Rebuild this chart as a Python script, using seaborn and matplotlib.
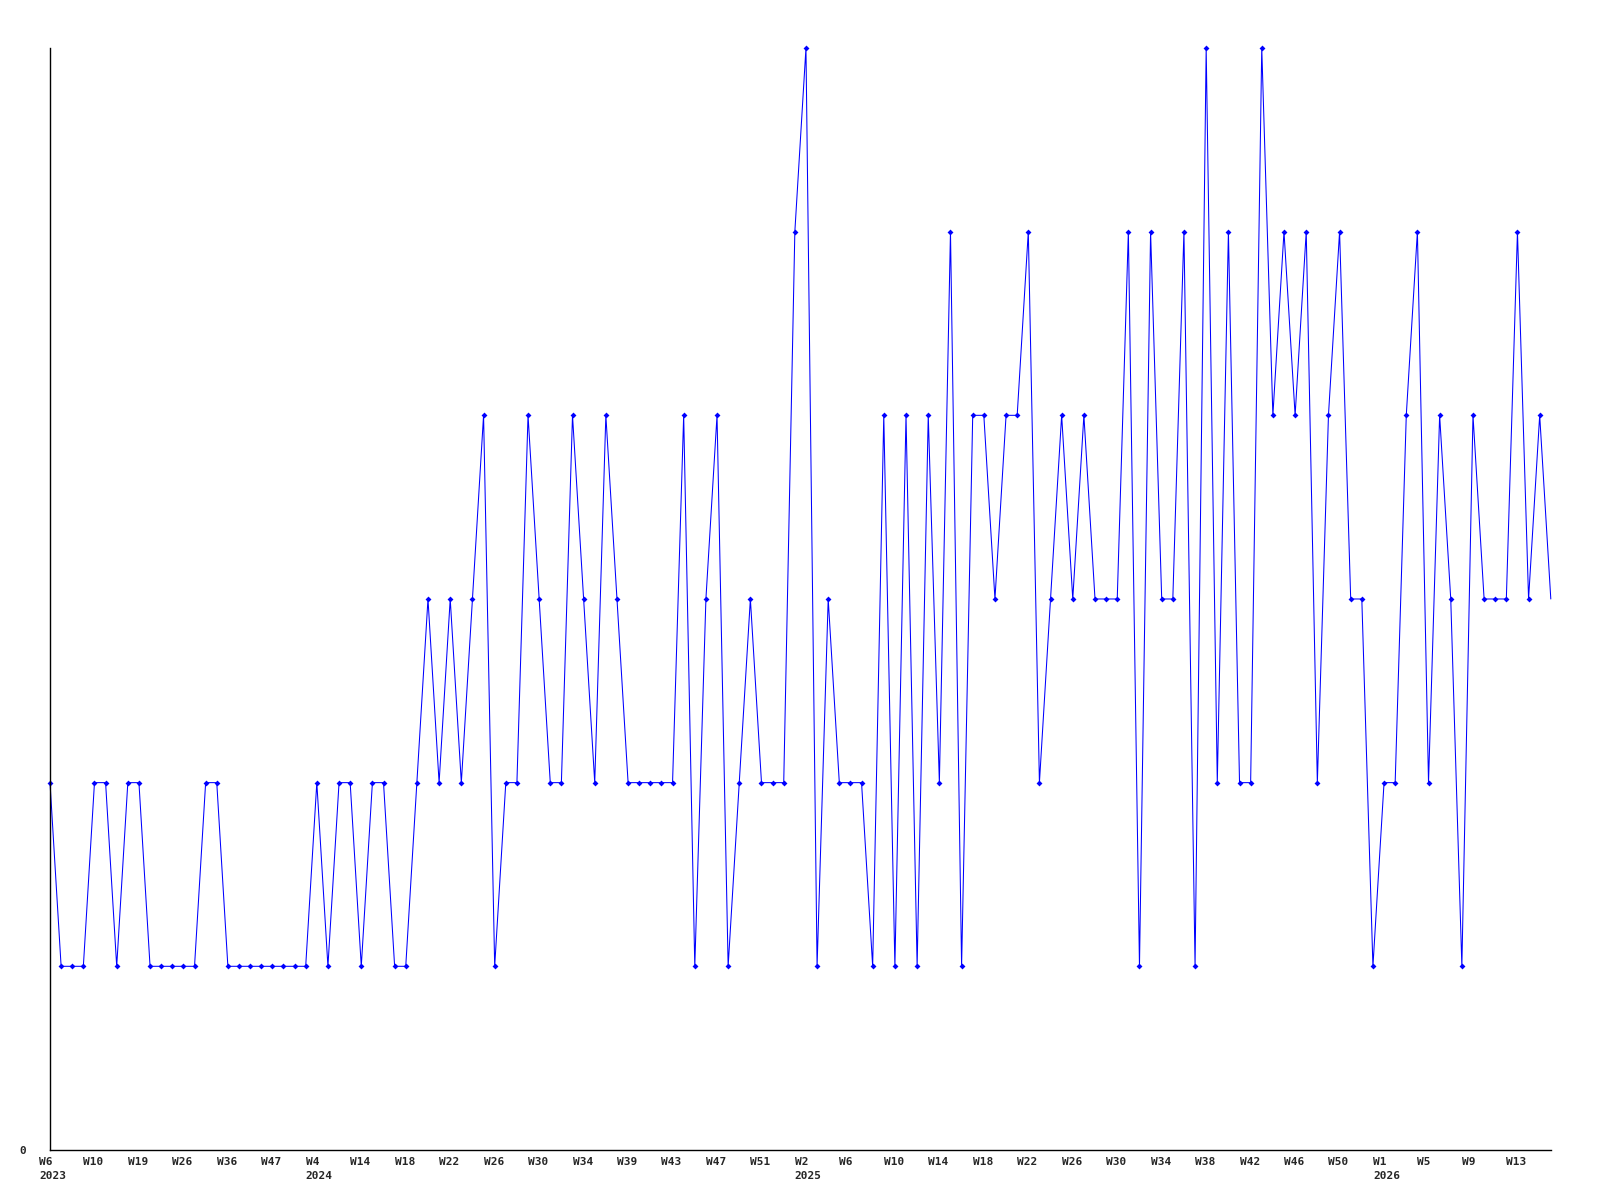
import matplotlib
matplotlib.use('Agg')
import matplotlib.pyplot as plt
import seaborn as sns
import pandas as pd

# weekly values, one per data point (equally spaced)
values = [
    2, 1, 1, 1, 2, 2, 1, 2, 2, 1, 1, 1, 1, 1, 2, 2, 1, 1, 1, 1,
    1, 1, 1, 1, 2, 1, 2, 2, 1, 2, 2, 1, 1, 2, 3, 2, 3, 2, 3, 4,
    1, 2, 2, 4, 3, 2, 2, 4, 3, 2, 4, 3, 2, 2, 2, 2, 2, 4, 1, 3,
    4, 1, 2, 3, 2, 2, 2, 5, 6, 1, 3, 2, 2, 2, 1, 4, 1, 4, 1, 4,
    2, 5, 1, 4, 4, 3, 4, 4, 5, 2, 3, 4, 3, 4, 3, 3, 3, 5, 1, 5,
    3, 3, 5, 1, 6, 2, 5, 2, 2, 6, 4, 5, 4, 5, 2, 4, 5, 3, 3, 1,
    2, 2, 4, 5, 2, 4, 3, 1, 4, 3, 3, 3, 5, 3, 4, 3,
]

# labels shown every 4th point
week_labels = [
    'W6', 'W10', 'W19', 'W26', 'W36', 'W47', 'W4', 'W14', 'W18', 'W22',
    'W26', 'W30', 'W34', 'W39', 'W43', 'W47', 'W51', 'W2', 'W6', 'W10',
    'W14', 'W18', 'W22', 'W26', 'W30', 'W34', 'W38', 'W42', 'W46', 'W50',
    'W1', 'W5', 'W9', 'W13',
]
year_labels = {0: '2023', 6: '2024', 17: '2025', 30: '2026'}

df = pd.DataFrame({'idx': range(len(values)), 'value': values})

sns.set_style('white')
plt.rcParams['font.family'] = ['DejaVu Sans Mono', 'DejaVu Sans']

fig = plt.figure(figsize=(16, 12), dpi=100)
ax = fig.add_axes([0.03125, 0.0417, 0.938, 0.9183])

sns.lineplot(data=df, x='idx', y='value', ax=ax, color='#0000ff',
             linewidth=0.75, marker='D', markersize=3, markeredgewidth=0,
             markevery=list(range(len(values) - 1)), clip_on=False)

ax.set_xlim(0, len(values) - 1)
ax.set_ylim(0, 6)

# week / year labels, left-aligned a bit before their point
ticks = list(range(0, len(values), 4))[:len(week_labels)]
for i, (t, w) in enumerate(zip(ticks, week_labels)):
    txt = w
    if i in year_labels:
        txt = w + '\n' + year_labels[i]
    ax.annotate(txt, xy=(t, 0), xycoords=('data', 'axes fraction'),
                xytext=(-8, -5), textcoords='offset points',
                ha='left', va='top', fontsize=8, fontweight='bold',
                linespacing=1.5, annotation_clip=False)

ax.set_xticks([])
ax.set_yticks([0])
ax.set_yticklabels(['0'], fontsize=8, fontweight='bold')
ax.tick_params(axis='y', length=0, pad=17)

for s in ['top', 'right']:
    ax.spines[s].set_visible(False)
for s in ['left', 'bottom']:
    ax.spines[s].set_color('black')
    ax.spines[s].set_linewidth(1)

ax.set_xlabel('')
ax.set_ylabel('')
ax.grid(False)

fig.savefig('out.png', dpi=100, facecolor='white')
